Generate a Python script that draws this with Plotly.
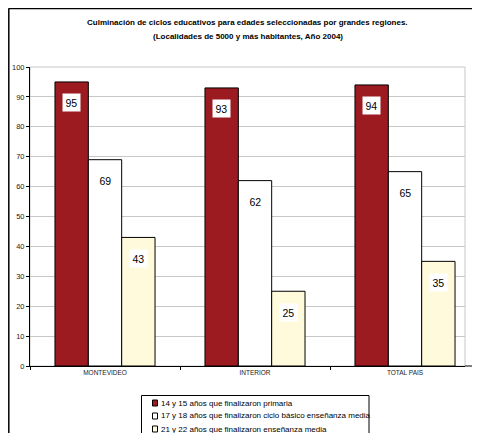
import plotly.graph_objects as go

categories = ["MONTEVIDEO", "INTERIOR", "TOTAL PAIS"]
series_names = [
    "14 y 15 años que finalizaron primaria",
    "17 y 18 años que finalizaron ciclo básico enseñanza media",
    "21 y 22 años que finalizaron enseñanza media",
]
primaria = [95, 93, 94]
ciclo_basico = [69, 62, 65]
media = [43, 25, 35]
colors = ["#9B1B20", "#FFFFFF", "#FFFADC"]
title_lines = [
    "Culminación de ciclos educativos para edades seleccionadas por grandes regiones.",
    "(Localidades de 5000 y más habitantes, Año 2004)",
]

FONT = "Liberation Sans, Arial"

# page offset of the figure inside the browser window (body margin)
OFF = 8
# plot area in screen pixels
L, R, T, B = 30, 465, 67, 366
W_PX, H_PX = 480, 433


def px(xs):
    return (xs - L) / (R - L)


def py(ys):
    return (B - ys) / (B - T)


fig = go.Figure()
all_vals = [primaria, ciclo_basico, media]
for name, vals, col in zip(series_names, all_vals, colors):
    fig.add_trace(go.Bar(
        x=categories, y=vals, name=name, showlegend=False,
        marker=dict(color=col, line=dict(color="#000000", width=1)),
    ))

# value labels with white boxes, placed inside near bar top
offsets = [-0.222, 0.0, 0.222]
for vals, off in zip(all_vals, offsets):
    for i, v in enumerate(vals):
        fig.add_annotation(
            x=i + off, y=v, xref="x", yref="y", text=str(v),
            showarrow=False, yshift=-21, yanchor="middle",
            bgcolor="#FFFFFF", borderpad=2.5,
            font=dict(family=FONT, size=10.5, color="#000000"),
        )

# title (two lines)
for line, ys in zip(title_lines, [22, 36]):
    fig.add_annotation(x=0.5, y=py(ys), xref="paper", yref="paper",
                       text="<b>" + line + "</b>", showarrow=False,
                       xanchor="center", yanchor="middle",
                       font=dict(family=FONT, size=8, color="#000000"))

# plot-area border (gray), extended x axis line with end tick, outer frame (black)
fig.add_shape(type="rect", xref="paper", yref="paper", x0=0, y0=0, x1=1, y1=1,
              line=dict(color="#C8C8C8", width=1), layer="below")
fig.add_shape(type="line", xref="paper", yref="paper", x0=1, y0=0, x1=px(481), y1=0,
              line=dict(color="#000000", width=1))
fig.add_shape(type="line", xref="paper", yref="paper", x0=px(479.5), y0=0,
              x1=px(479.5), y1=py(369), line=dict(color="#000000", width=1))
fig.add_shape(type="line", xref="paper", yref="paper", x0=px(8.5), y0=py(8.5),
              x1=px(490), y1=py(8.5), line=dict(color="#000000", width=1.5))
fig.add_shape(type="line", xref="paper", yref="paper", x0=px(8.8), y0=py(8.5),
              x1=px(8.8), y1=py(445), line=dict(color="#000000", width=1.5))

# custom legend box (entries spaced as in the reference)
fig.add_shape(type="rect", xref="paper", yref="paper",
              x0=px(141.5), y0=py(445), x1=px(369), y1=py(395.5),
              line=dict(color="#000000", width=1), fillcolor="#FFFFFF")
entry_y = [403, 416, 429]
for name, col, ey in zip(series_names, colors, entry_y):
    fig.add_shape(type="rect", xref="paper", yref="paper",
                  x0=px(152.5), x1=px(157.5), y0=py(ey + 3), y1=py(ey - 3),
                  line=dict(color="#000000", width=1), fillcolor=col)
    fig.add_annotation(x=px(159), y=py(ey), xref="paper", yref="paper",
                       text=name, showarrow=False, xanchor="left",
                       yanchor="middle",
                       font=dict(family=FONT, size=8, color="#000000"))

fig.update_layout(
    width=W_PX, height=H_PX,
    margin=dict(l=L - OFF, r=W_PX - (R - OFF), t=T - OFF, b=H_PX - (B - OFF),
                autoexpand=False),
    paper_bgcolor="#FFFFFF", plot_bgcolor="#FFFFFF",
    barmode="group", bargap=0.333, bargroupgap=0,
    font=dict(family=FONT, color="#000000"),
    showlegend=False,
    xaxis=dict(
        range=[-0.5, 2.4], showgrid=False, showline=True, linecolor="#000000",
        linewidth=1, ticks="outside", tickson="boundaries", ticklen=3,
        tickcolor="#000000", tickfont=dict(family=FONT, size=6.5, color="#222222"),
        fixedrange=True,
    ),
    yaxis=dict(
        range=[0, 100], dtick=10, showgrid=True, gridcolor="#C8C8C8",
        showline=True, linecolor="#000000", linewidth=1, ticks="outside",
        ticklen=3, tickcolor="#000000",
        tickfont=dict(family=FONT, size=7.5, color="#222222"),
        zeroline=False, fixedrange=True,
    ),
)

fig.write_html("out.html")
